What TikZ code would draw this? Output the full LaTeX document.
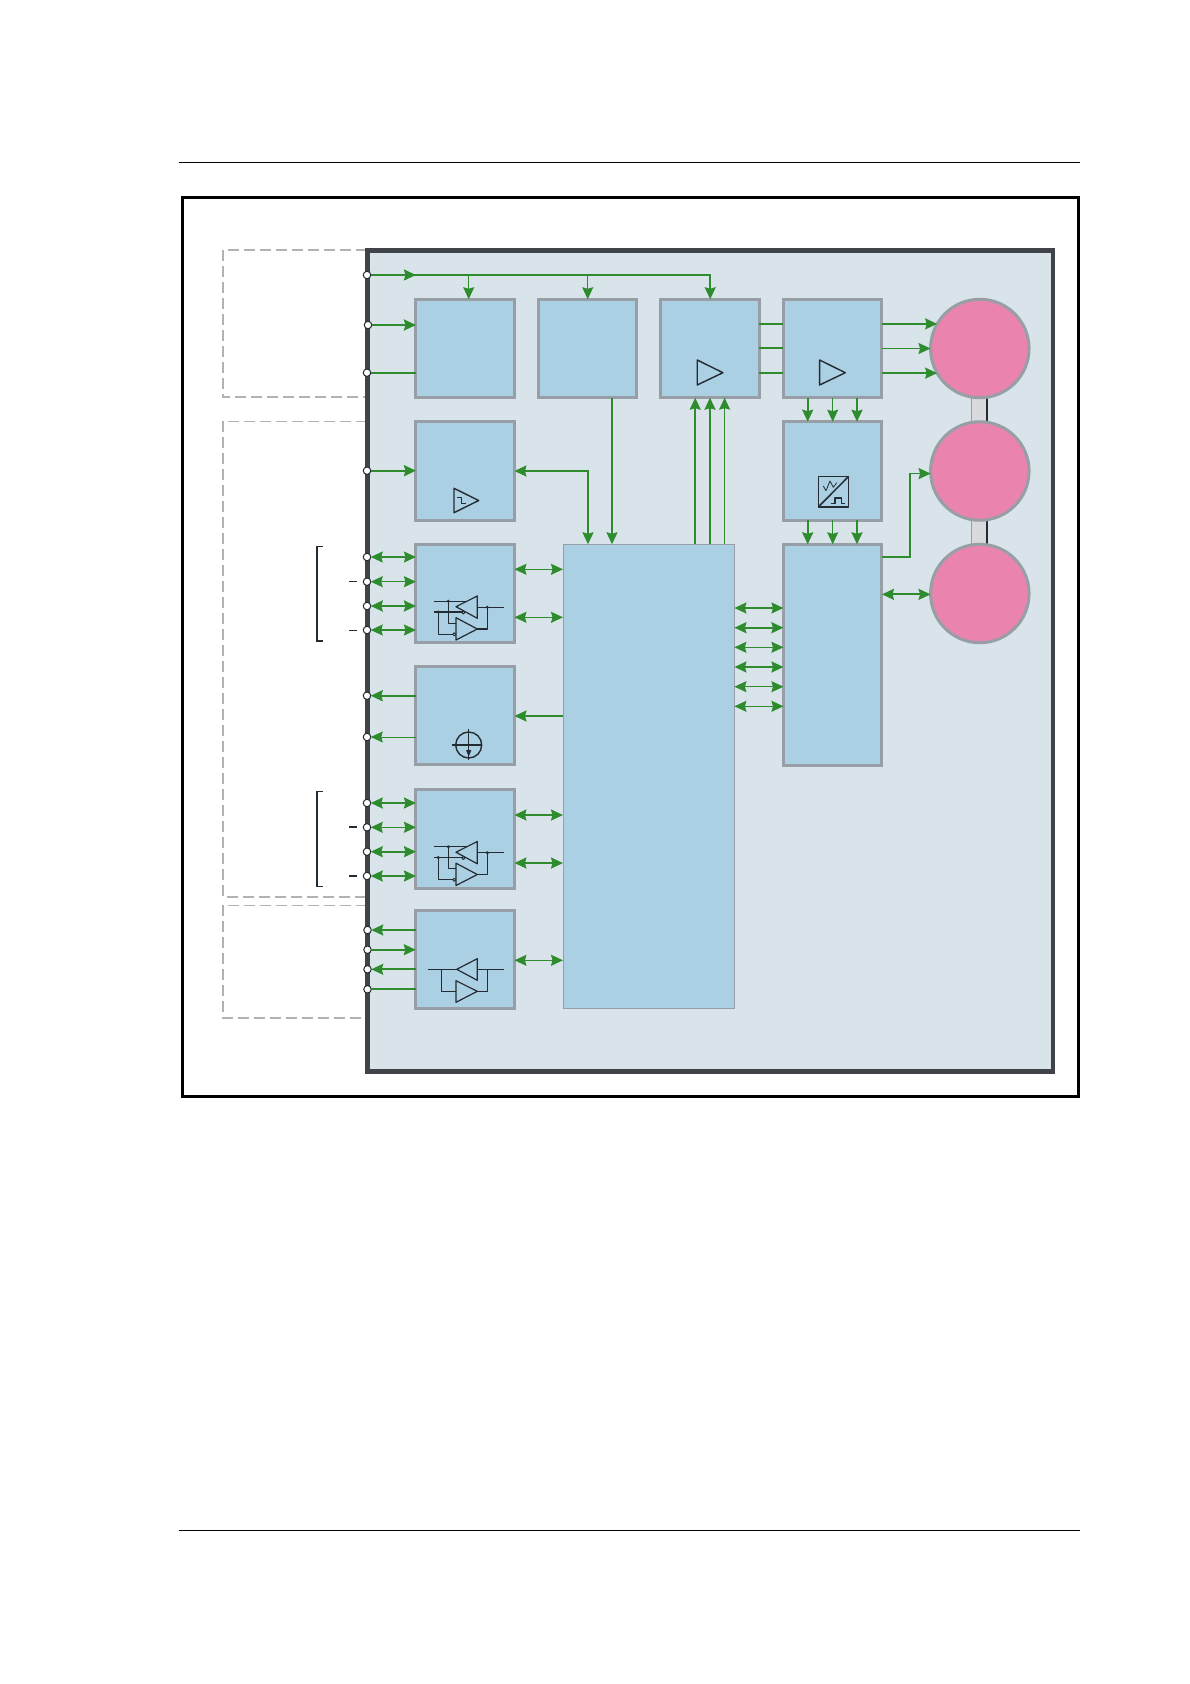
\documentclass[tikz,border=0pt]{standalone}
\usepackage{xcolor}
\usetikzlibrary{calc,arrows.meta}
\definecolor{wire}{HTML}{2E8B2E}
\definecolor{ink}{HTML}{232B33}
\definecolor{edge}{HTML}{979EA5}
\definecolor{cell}{HTML}{ABCFE3}
\definecolor{die}{HTML}{D8E4E9}
\definecolor{rim}{HTML}{404448}
\definecolor{coil}{HTML}{EA84AF}
\definecolor{zone}{HTML}{B2B2B2}
\definecolor{strap}{HTML}{D9DADD}
\tikzset{
  block/.style={draw=edge, fill=cell, line width=3pt, minimum size=98.5pt, inner sep=0pt, outer sep=0pt},
  motor/.style={circle, draw=edge, fill=coil, line width=3pt, minimum size=98.5pt, inner sep=0pt, outer sep=0pt},
  pad/.style={circle, draw=ink, fill=white, line width=1pt, minimum size=7.5pt, inner sep=0pt, outer sep=0pt},
  sig/.style={draw=wire, line width=1.8pt},
  sigb/.style={draw=wire, line width=2.3pt},
  sigt/.style={draw=wire, line width=1.1pt},
  zoneline/.style={draw=zone, line width=1.8pt, dash pattern=on 11pt off 5pt},
  rule/.style={draw=black, line width=1.3pt},
  sym/.style={draw=ink, line width=1.2pt, line join=round},
  xcvr/.pic={
    \draw[sym] (-31.2,7.8) -- (5,7.8);
    \draw[sym] (-31.2,18.5) -- (-2,18.5);
    \draw[sym] (-16.9,7.8) -- (-16.9,29.8) -- (-9.2,29.8);
    \draw[sym] (-26.9,18.5) -- (-26.9,40.8) -- (-10.9,40.8);
    \draw[sym] (12.1,13.8) -- (38.5,13.8);
    \draw[sym] (22.1,13.8) -- (22.1,35.5) -- (12.1,35.5);
    \draw[sym,fill=cell] (-9.2,13.2) -- (12.1,2.5) -- (12.1,24.8) -- cycle;
    \draw[sym,fill=cell] (-9.2,24.2) -- (12.1,35.5) -- (-9.2,46.5) -- cycle;
    \draw[sym,line width=1pt,fill=white] (-1.9,19) circle (1.5pt);
    \draw[sym,line width=1pt,fill=white] (-10.9,40.8) circle (1.5pt);
    \fill[ink] (-16.9,7.8) circle (1.7pt);
    \fill[ink] (-26.9,18.5) circle (1.7pt);
    \fill[ink] (22.1,13.8) circle (1.7pt);
  },
}

\begin{document}
\begin{tikzpicture}[x=1pt,y=-1pt,>={Stealth[length=12pt,width=11pt,inset=1.5pt]}]
  \useasboundingbox (0,0) rectangle (1190,1684);
  \fill[white] (0,0) rectangle (1190,1684);

  % page rules and outer frame
  \draw[rule] (179,162.3) -- (1080,162.3);
  \draw[rule] (179,1530.3) -- (1080,1530.3);
  \draw[black,line width=3pt] (182.7,197.3) rectangle (1078,1096.7);

  % dashed zones
  \draw[zoneline] (367,249.7) -- (223,249.7) -- (223,397.3) -- (367,397.3);
  \draw[zoneline,line width=1.3pt] (367,421.3) -- (223,421.3) -- (223,897) -- (367,897);
  \draw[zoneline,line width=1.3pt] (367,905.3) -- (223,905.3) -- (223,1018) -- (367,1018);

  % die
  \draw[draw=rim,fill=die,line width=4.5pt] (367.3,250.3) rectangle (1053,1071.7);

  % straps between the coils
  \foreach \a/\b in {398/421,520/544}{
    \fill[strap] (971.7,\a) rectangle (986.7,\b);
    \draw[edge,line width=1.5pt] (971.7,\a) -- (971.7,\b);
    \draw[ink,line width=2pt] (986.7,\a) -- (986.7,\b);
  }

  % blocks
  \node[block] (sup) at (465.2,348.5) {};
  \node[block] (osc) at (587.7,348.5) {};
  \node[block] (drv) at (710.2,348.5) {};
  \node[block] (fet) at (832.7,348.5) {};
  \node[block] (cmp) at (465.2,471) {};
  \node[block] (adc) at (832.7,471) {};
  \node[block] (xa) at (465.2,593.5) {};
  \node[block] (ref) at (465.2,715.5) {};
  \node[block] (xb) at (465.2,839) {};
  \node[block] (xc) at (465,959.5) {};
  \node[block,minimum height=221.5pt,anchor=north] (fsm) at (832.7,544.3) {};
  \node[block,line width=1pt,minimum width=171.4pt,minimum height=464pt,anchor=north west] (core) at (563,544.3) {};
  \node[motor] (m1) at (979.8,348.5) {};
  \node[motor] (m2) at (979.8,471) {};
  \node[motor] (m3) at (979.8,593.5) {};

  % pads on the die edge
  \foreach \n/\x/\y in {1/367/275,2/368/325,3/367/372.7,4/367/470.7,5/367/557,6/367/581.7,7/367/606,8/367/630,
    9/367/695.7,10/367/737,11/367/803,12/367/827.3,13/367/851.7,14/367/876,15/367.5/930,16/367.5/949.7,17/367.5/969.3,18/367.5/989.3}{
    \node[pad] (p\n) at (\x,\y) {};
  }

  % clock bus
  \coordinate (t1) at (468.7,275);
  \coordinate (t2) at (587.7,275);
  \draw[sig,->] (p1) -- (p1 -| sup.west);
  \draw[sig,->] (p1) -- (p1 -| drv.north) -- (drv.north);
  \draw[sigt,->] (t1) -- (t1 |- sup.north);
  \draw[sigt,->] (t2) -- (t2 |- osc.north);

  % pads to blocks
  \draw[sigb,->] (p2) -- (p2 -| sup.west);
  \draw[sig] (p3) -- (p3 -| sup.west);
  \draw[sigb,->] (p4) -- (p4 -| cmp.west);
  \foreach \n/\w in {5/1.3,6/1.3,7/2.3,8/1.3,11/2.0,12/1.2,13/1.8,14/2.0}{
    \draw[wire,line width=\w pt,<->] (p\n) -- (p\n -| xa.west);
  }
  \draw[sigb,<-] (p9) -- (p9 -| ref.west);
  \draw[wire,line width=0.9pt,<-] (p10) -- (p10 -| ref.west);
  \draw[sig,<-] (p15) -- (p15 -| xc.west);
  \draw[sig,->] (p16) -- (p16 -| xc.west);
  \draw[sig,<-] (p17) -- (p17 -| xc.west);
  \draw[sigb] (p18) -- (p18 -| xc.west);

  % blocks to core
  \draw[sig,<->] (cmp.east) -- (588,471) -- (588,544.3);
  \draw[sig,->] (612,397.7) -- (612,544.3);
  \foreach \y/\w in {569.3/1.3,617.3/1.3,815/1.8,863/1.8,960.3/1.3}{
    \draw[wire,line width=\w pt,<->] (xa.east |- 0,\y) -- (core.west |- 0,\y);
  }
  \draw[sigb,->] (core.west |- 0,716) -- (ref.east |- 0,716);
  \foreach \x/\w in {695.2/1.8,710/2.0,724.6/1.1}{
    \draw[wire,line width=\w pt,->] (\x,544.3) -- (\x,397.7);
  }
  \foreach \y/\w in {608/1.5,627.7/2.2,647.3/1.1,667/2.0,686.7/1.1,706.3/1.2}{
    \draw[wire,line width=\w pt,<->] (core.east |- 0,\y) -- (fsm.west |- 0,\y);
  }

  % right column
  \foreach \y in {323.7,347.7,372.7}{
    \draw[sig] (drv.east |- 0,\y) -- (fet.west |- 0,\y);
  }
  \draw[sig,->] (fet.east |- m1.150) -- (m1.150);
  \draw[sigt,->] (fet.east |- m1.west) -- (m1.west);
  \draw[sig,->] (fet.east |- m1.210) -- (m1.210);
  \foreach \x/\w in {807.7/2.0,832.7/1.2,857/2.0}{
    \draw[wire,line width=\w pt,->] (\x,397.7) -- (\x,421.7);
    \draw[wire,line width=\w pt,->] (\x,520.3) -- (\x,544.3);
  }
  \draw[sig,->] (fsm.east |- 0,557) -- (910,557) |- (m2.183);
  \draw[sig,<->] (fsm.east |- m3.181) -- (m3.181);

  % brackets
  \draw[ink,line width=1.5pt] (322.7,546.3) -- (317,546.3) -- (317,641) -- (322.7,641);
  \draw[ink,line width=1.5pt] (322.7,791.7) -- (317,791.7) -- (317,886.3) -- (322.7,886.3);
  \draw[ink,line width=1pt] (349,581.7) -- (357.3,581.7);
  \draw[ink,line width=1pt] (349,630) -- (357.3,630);
  \draw[ink,line width=1.7pt] (349,827.3) -- (357.3,827.3);
  \draw[ink,line width=1.7pt] (349,876) -- (357.3,876);

  % symbols
  \draw[sym,line width=1.4pt] (697.2,360) -- (722.9,372.7) -- (697.2,385) -- cycle;
  \draw[sym,line width=1.4pt] (819.6,360) -- (845.3,372.7) -- (819.6,385) -- cycle;
  \draw[sym,line width=1.4pt] (454,488.3) -- (478.7,500.5) -- (454,512.7) -- cycle;
  \draw[sym] (457.3,497.3) -- (461.7,497.3) -- (461.7,503.3) -- (466,503.3);

  \draw[sym,line width=1.5pt] (818.3,476.3) rectangle (848.7,507);
  \draw[sym,line width=1.5pt] (818.3,507) -- (848.7,476.3);
  \draw[sym,line width=0.8pt] (823.3,486) -- (826,490.7) -- (830,481) -- (833.3,487.3) -- (836.7,482.7);
  \draw[sym] (830.7,503.3) -- (835,503.3) -- (835,498) -- (841.7,498) -- (841.7,503.3) -- (845.3,503.3);

  \pic at (xa.center) {xcvr};
  \draw[ink,line width=2pt] (477.3,629) -- (487.3,629);
  \pic at (xb.center) {xcvr};

  \draw[sym,line width=1.4pt] (468.7,745) circle (13pt);
  \draw[sym,line width=1.6pt] (452.3,745) -- (481.7,745);
  \draw[sym] (468.7,729.3) -- (468.7,760);
  \fill[ink] (466,750) -- (471.4,750) -- (468.7,756.7) -- cycle;

  \draw[sym] (428.3,969.3) -- (456.7,969.3);
  \draw[sym] (441.3,969.3) -- (441.3,991.3) -- (456,991.3);
  \draw[sym] (477.3,969.3) -- (503.7,969.3);
  \draw[sym] (487.3,969.3) -- (487.3,991.3) -- (477.3,991.3);
  \draw[sym,fill=cell] (456.7,969.3) -- (477.3,958.7) -- (477.3,980.3) -- cycle;
  \draw[sym,fill=cell] (456,980.7) -- (477.3,991.3) -- (456,1002.3) -- cycle;
\end{tikzpicture}
\end{document}
